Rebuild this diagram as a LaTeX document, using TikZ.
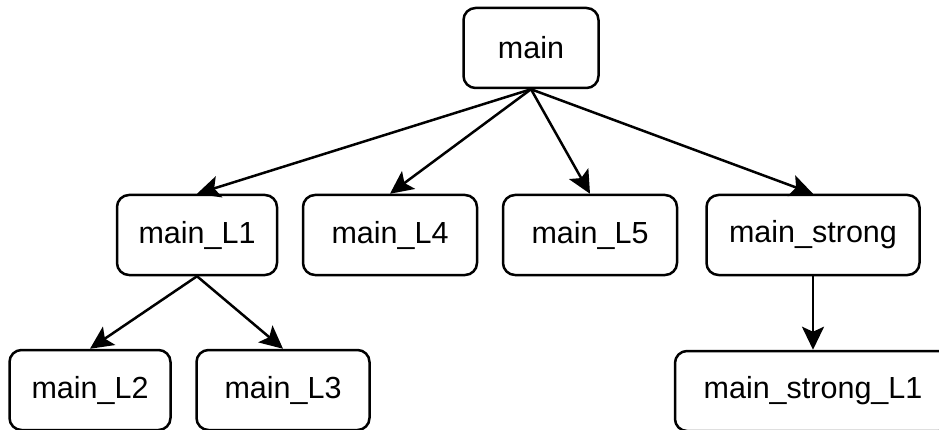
\documentclass[tikz,border=0pt]{standalone}
\usepackage{fontspec}
\setmainfont{Liberation Sans}
\usetikzlibrary{arrows.meta}
\tikzset{
	fnbox/.style={draw,rounded corners=12pt,line width=2.5pt,minimum height=80pt,inner sep=0pt},
}
\begin{document}
\begin{tikzpicture}[x=1pt,y=-1pt,line join=round,line width=2.5pt,>={Stealth[length=23pt,width=22pt,inset=5pt]},font=\fontsize{30.5}{36}\selectfont]
	\useasboundingbox (0,0) rectangle (939,430);
	\clip (0,0) rectangle (939,430);
	\node[fnbox,minimum width=135pt] (main) at (531,48) {main};
	\node[fnbox,minimum width=160pt] (L1) at (197,235) {main\_L1};
	\node[fnbox,minimum width=174pt] (L4) at (390,235) {main\_L4};
	\node[fnbox,minimum width=174pt] (L5) at (590,235) {main\_L5};
	\node[fnbox,minimum width=213pt] (strong) at (813,235) {main\_strong};
	\node[fnbox,minimum width=161pt] (L2) at (90,390) {main\_L2};
	\node[fnbox,minimum width=173pt] (L3) at (283,390) {main\_L3};
	\node[fnbox,minimum width=276pt] (strongL1) at (813,391) {main\_strong\_L1};
	\draw[->] (main.south)--(L1.north);
	\draw[->] (main.south)--(L4.north);
	\draw[->] (main.south)--(L5.north);
	\draw[->] (main.south)--(strong.north);
	\draw[->] (L1.south)--(L2.north);
	\draw[->] (L1.south)--(L3.north);
	\draw[->] (strong.south)--(strongL1.north);
\end{tikzpicture}
\end{document}
